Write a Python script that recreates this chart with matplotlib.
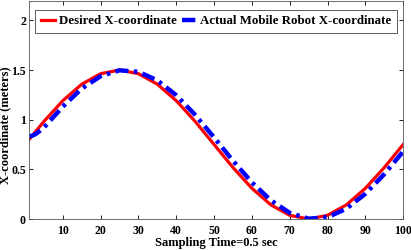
#!/usr/bin/env python3

import matplotlib
matplotlib.use('Agg')
import matplotlib.pyplot as plt

# sampling instants and x-coordinates (meters)
t_desired = [1, 5, 10, 15, 20, 25, 30, 35, 40, 45, 50,
             55, 60, 65, 70, 75, 80, 85, 90, 95, 100]
x_desired = [0.797, 0.982, 1.191, 1.357, 1.463, 1.500, 1.463, 1.357, 1.191, 0.982, 0.750,
             0.518, 0.309, 0.143, 0.037, 0.000, 0.037, 0.143, 0.309, 0.518, 0.750]

t_actual = [1, 2, 3, 5, 10, 15, 20, 25, 30, 35, 40, 45, 50,
            55, 60, 65, 70, 75, 80, 85, 90, 95, 100]
x_actual = [0.83, 0.84, 0.86, 0.92, 1.132, 1.313, 1.438, 1.497, 1.482, 1.396, 1.246, 1.048, 0.821,
            0.586, 0.368, 0.188, 0.062, 0.003, 0.018, 0.104, 0.254, 0.452, 0.680]

x_ticks = [10, 20, 30, 40, 50, 60, 70, 80, 90, 100]
y_ticks = [0, 0.5, 1, 1.5, 2]

plt.rcParams['font.family'] = ['Liberation Serif', 'DejaVu Serif']
plt.rcParams['font.weight'] = 'bold'

fig = plt.figure(figsize=(4.11, 2.5), dpi=100)
ax = fig.add_axes([0.07, 0.124, 0.911, 0.874])

ax.plot(t_desired, x_desired, color='#ff0000', linewidth=2.3, label='Desired X-coordinate')
ax.plot(t_actual, x_actual, color='#0000ff', linewidth=3.2, linestyle=(0, (3.0, 1.2, 0.8, 1.2)),
        label='Actual Mobile Robot X-coordinate')

ax.set_xlim(1, 100)
ax.set_ylim(0, 2.2)
ax.set_xticks(x_ticks)
ax.set_yticks(y_ticks)
ax.set_yticklabels(['0', '0.5', '1', '1.5', '2'])
ax.tick_params(direction='in', top=True, right=True, length=3, width=0.6, labelsize=8.5)
ax.tick_params(axis='x', pad=4)
ax.tick_params(axis='y', pad=2)
for s in ax.spines.values():
    s.set_linewidth(0.6)
    s.set_color('#555555')

ax.set_xlabel('Sampling Time=0.5 sec', fontsize=9, fontweight='bold', labelpad=0)
ax.set_ylabel('X-coordinate (meters)', fontsize=9, fontweight='bold')
ax.yaxis.set_label_coords(-0.047, 0.43)

leg = ax.legend(loc='upper center', ncol=2, fontsize=9.3, frameon=True, fancybox=False,
                handlelength=1.1, handletextpad=0.3, columnspacing=0.4,
                borderpad=0.45, borderaxespad=0.7)
leg.get_frame().set_edgecolor('#333333')
leg.get_frame().set_linewidth(0.7)

fig.savefig('out.png', dpi=100)
